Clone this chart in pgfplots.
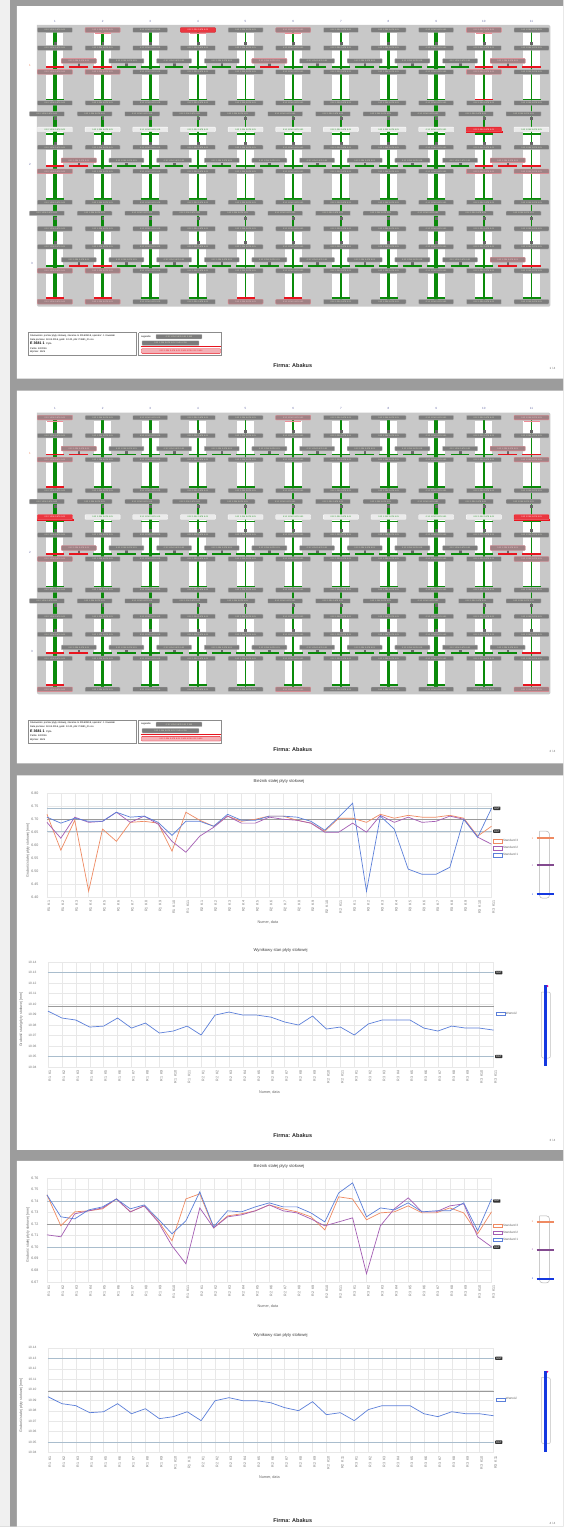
\documentclass[border=0pt]{standalone}
\usepackage{fontspec}
\setmainfont{Liberation Sans}
\usepackage{pgfplots}
\pgfplotsset{compat=1.18}

\definecolor{pagegray}{HTML}{9C9C9C}
\definecolor{panelgray}{HTML}{C8C8C8}
\definecolor{boxgray}{HTML}{7C7C7C}
\definecolor{boxedge}{HTML}{BDBDBD}
\definecolor{boxtext}{HTML}{E6E6D2}
\definecolor{sgreen}{HTML}{0A8A0A}
\definecolor{sred}{HTML}{E8141E}
\definecolor{spink}{HTML}{F08C96}
\definecolor{corange}{HTML}{EF8A62}
\definecolor{cpurple}{HTML}{A45DB3}
\definecolor{cblue}{HTML}{5B7FD9}
\definecolor{refblue}{HTML}{A9BDCD}
\definecolor{refgray}{HTML}{9A9A9A}
\definecolor{barblue}{HTML}{1438E0}
\definecolor{numcol}{HTML}{6A6FA8}

\newcommand\fs[1]{\fontsize{#1}{#1}\selectfont}
\newcommand\boxtxt{0.12\, 1.234\, 5.678\, 9.01}
\newcommand\xl[2]{R#1\hspace{2pt}K#2}

\tikzset{
  sbox/.style={rectangle, rounded corners=0.6pt, fill=boxgray, draw=boxedge, line width=0.35pt, minimum width=35pt, minimum height=4.6pt, inner sep=0pt, text=boxtext, font=\fs{2}},
  sboxpink/.style={sbox, fill=boxgray!70!spink, draw=spink, text=spink!40!white},
  sboxred/.style={sbox, fill=sred!85, draw=sred, text=white},
  sboxlight/.style={sbox, fill=black!8, draw=white, text=sgreen},
  lbl/.style={fill=black!80, text=white, font=\fs{2.6}, inner sep=0.8pt, rounded corners=0.6pt, anchor=west, xshift=1.5pt},
}

\pgfplotsset{
  mycanvas/.style={anchor=north west, x=1pt, y=1pt, y dir=reverse, xmin=0, xmax=564, ymin=0, ymax=1528, hide axis, clip=false},
  mypage/.style={anchor=north west, x=1pt, y=1pt, y dir=reverse, xmin=0, xmax=564, ymin=0, ymax=372, hide axis, clip=false},
  lbox/.style={only marks, mark=none, nodes near coords={\boxtxt}, nodes near coords align={anchor=center}, every node near coord/.append style={#1}},
  lbox/.default={sbox},
  rdash/.style={only marks, mark=-, mark size=9.3pt, sred, mark options={line width=1.8pt}},
  xlabs/.style={xticklabels={\xl11,\xl12,\xl13,\xl14,\xl15,\xl16,\xl17,\xl18,\xl19,\xl1{10},\xl1{11},\xl21,\xl22,\xl23,\xl24,\xl25,\xl26,\xl27,\xl28,\xl29,\xl2{10},\xl2{11},\xl31,\xl32,\xl33,\xl34,\xl35,\xl36,\xl37,\xl38,\xl39,\xl3{10},\xl3{11}}},
  mychart/.style={anchor=north west, scale only axis, width=445pt, xmin=0, xmax=32, enlargelimits=false, clip=false,
    axis line style={draw=none}, tick style={draw=none},
    grid=major, grid style={black!9, line width=0.35pt},
    xtick={0,...,32}, xlabs,
    xticklabel style={rotate=90, anchor=east, font=\fs{3.6}, text=black!55, yshift=-2pt},
    yticklabel style={font=\fs{3.6}, text=black!55, xshift=-5pt, /pgf/number format/fixed, /pgf/number format/fixed zerofill, /pgf/number format/precision=2},
    /pgf/number format/assume math mode=true,
    title style={font=\fs{4.2}, text=black!75, at={(axis description cs:0.522,1)}, anchor=south, yshift=0.5pt},
    xlabel style={font=\fs{3.8}, text=black!60, at={(axis description cs:0.497,-0.24)}, anchor=center},
    ylabel style={font=\fs{3.6}, text=black!60, at={(axis description cs:-0.043,0.45)}, anchor=center},
    legend style={draw=none, fill=none, font=\fs{3.1}, text=black!60, inner sep=0pt, row sep=2.4pt, nodes={inner sep=0.4pt}, anchor=north west, cells={anchor=west}},
    legend image code/.code={\draw[##1, line width=0.6pt, fill=white] (0pt,-1.7pt) rectangle (9pt,1.7pt);},
  },
}

\newcommand\schematicbase{%
\addplot[fill=panelgray, draw=none, rounded corners=2pt] coordinates {(37,25) (551,25) (551,307) (37,307) (37,25)};
\pgfplotsinvokeforeach{55,102.7,150.4,198.1,245.8,293.5,341.2,388.9,436.6,484.3,532}{%
 \addplot[white, line width=17pt, unbounded coords=jump] coordinates {(##1,33) (##1,66) (##1,nan) (##1,75) (##1,99.5) (##1,nan) (##1,132.5) (##1,165.5) (##1,nan) (##1,174.5) (##1,199) (##1,nan) (##1,232) (##1,265) (##1,nan) (##1,274) (##1,298)};}
\pgfplotsinvokeforeach{55,102.7,150.4,388.9,436.6}{%
 \addplot[sgreen, line width=3.4pt] coordinates {(##1,30) (##1,302)};}
\pgfplotsinvokeforeach{198.1,245.8,293.5,341.2,484.3,532}{%
 \addplot[sgreen, line width=1.8pt] coordinates {(##1,30) (##1,302)};}
\pgfplotsinvokeforeach{55,102.7,150.4,198.1,245.8,293.5,341.2,388.9,436.6,484.3,532}{%
 \addplot[only marks, mark=-, mark size=9pt, sgreen, mark options={line width=1.8pt}] coordinates {(##1,99.5) (##1,134) (##1,199) (##1,298)};}
\pgfplotsinvokeforeach{67,166.5,266}{%
 \addplot[only marks, mark=-, mark size=9.3pt, sgreen, mark options={line width=1.8pt}] coordinates {(55,##1) (78.85,##1) (102.7,##1) (126.55,##1) (150.4,##1) (174.25,##1) (198.1,##1) (221.95,##1) (245.8,##1) (269.65,##1) (293.5,##1) (317.35,##1) (341.2,##1) (365.05,##1) (388.9,##1) (412.75,##1) (436.6,##1) (460.45,##1) (484.3,##1) (508.15,##1) (532,##1)};}
\pgfplotsinvokeforeach{55,102.7,150.4,198.1,245.8,293.5,341.2,388.9,436.6,484.3,532}{%
 \addplot[only marks, mark=square*, mark size=0.9pt, black!60] coordinates {(##1,43.5) (##1,118.5) (##1,143) (##1,218) (##1,242.5)};}
\pgfplotsinvokeforeach{78.85,126.55,174.25,221.95,269.65,317.35,365.05,412.75,460.45,508.15}{%
 \addplot[only marks, mark=square*, mark size=0.9pt, black!60] coordinates {(##1,64.3) (##1,163.8) (##1,263.3)};}
\pgfplotsinvokeforeach{55,102.7,150.4,198.1,245.8,293.5,341.2,388.9,436.6,484.3,532}{%
 \addplot[lbox] coordinates {(##1,30) (##1,48) (##1,72) (##1,103) (##1,147.5) (##1,171.5) (##1,202.5) (##1,229) (##1,247) (##1,271) (##1,302)};}
\pgfplotsinvokeforeach{47,94.7,142.4,190.1,237.8,285.5,333.2,380.9,428.6,476.3,524}{%
 \addplot[lbox] coordinates {(##1,114) (##1,213.5)};}
\pgfplotsinvokeforeach{78.85,126.55,174.25,221.95,269.65,317.35,365.05,412.75,460.45,508.15}{%
 \addplot[lbox] coordinates {(##1,61) (##1,160.5) (##1,260)};}
\addplot[lbox=sboxlight] coordinates {(55,129.5) (102.7,129.5) (150.4,129.5) (198.1,129.5) (245.8,129.5) (293.5,129.5) (341.2,129.5) (388.9,129.5) (436.6,129.5) (484.3,129.5) (532,129.5)};
\node[font=\fs{3}, text=numcol] at (axis cs:55,21) {1};
\node[font=\fs{3}, text=numcol] at (axis cs:102.7,21) {2};
\node[font=\fs{3}, text=numcol] at (axis cs:150.4,21) {3};
\node[font=\fs{3}, text=numcol] at (axis cs:198.1,21) {4};
\node[font=\fs{3}, text=numcol] at (axis cs:245.8,21) {5};
\node[font=\fs{3}, text=numcol] at (axis cs:293.5,21) {6};
\node[font=\fs{3}, text=numcol] at (axis cs:341.2,21) {7};
\node[font=\fs{3}, text=numcol] at (axis cs:388.9,21) {8};
\node[font=\fs{3}, text=numcol] at (axis cs:436.6,21) {9};
\node[font=\fs{3}, text=numcol] at (axis cs:484.3,21) {10};
\node[font=\fs{3}, text=numcol] at (axis cs:532,21) {11};
\node[font=\fs{3}, text=corange] at (axis cs:30,66) {1};
\node[font=\fs{3}, text=numcol] at (axis cs:30,165) {2};
\node[font=\fs{3}, text=numcol] at (axis cs:32,264) {3};
% info boxes
\addplot[draw=black!45, line width=0.9pt, fill=white] coordinates {(28,333) (137,333) (137,356) (28,356) (28,333)};
\addplot[draw=black!45, line width=0.9pt, fill=white] coordinates {(139,333) (222,333) (222,356) (139,356) (139,333)};
\node[anchor=west, font=\fs{2.4}, inner sep=0pt] at (axis cs:30,335.8) {Stanowisko: pomiar płyty stołowej, zlecenie nr 2016/0418, operator: J. Kowalski};
\node[anchor=west, font=\fs{2.4}, inner sep=0pt] at (axis cs:30,339.9) {Data pomiaru: 18.04.2016, godz. 10:42, plik: P3681\_01.csv};
\node[anchor=west, font=\bfseries\fs{3.6}, inner sep=0pt] at (axis cs:30,344.3) {E 3681 1 {\mdseries\fs{2.4} Płyta}};
\node[anchor=west, font=\fs{2.4}, inner sep=0pt] at (axis cs:30,348.7) {Partia: 12/2016};
\node[anchor=west, font=\fs{2.4}, inner sep=0pt] at (axis cs:30,352.7) {Wymiar: 1525};
\node[anchor=west, font=\fs{2.4}, inner sep=0pt] at (axis cs:141,337) {Legenda:};
\node[sbox, anchor=west, minimum width=46pt] at (axis cs:156,337) {0.12\, 1.234\, 5.678\, 9.01\, 2.345};
\node[sbox, anchor=west, minimum width=57pt] at (axis cs:142,343.4) {0.12\, 1.234\, 5.678\, 9.01\, 2.345\, 6.789};
\addplot[sred, line width=1pt] coordinates {(141,347.3) (221,347.3)};
\node[sbox, anchor=west, minimum width=79pt, fill=spink!70!white, draw=sred, text=sred] at (axis cs:141.5,351.4) {0.12\, 1.234\, 5.678\, 9.01\, 2.345\, 6.789\, 0.12\, 3.456};
}

\begin{document}
\begin{tikzpicture}
% ===== canvas: pages, footers, side scales =====
\begin{axis}[mycanvas, at={(0pt,0pt)}]
\addplot[fill=pagegray, draw=none] coordinates {(0,0) (564,0) (564,1528) (0,1528) (0,0)};
\addplot[fill=white!94!black, draw=none] coordinates {(0,0) (10,0) (10,1528) (0,1528) (0,0)};
\addplot[fill=white, draw=none] coordinates {(17,6) (564,6) (564,379) (17,379) (17,6)};
\addplot[fill=white, draw=none] coordinates {(17,391) (564,391) (564,764) (17,764) (17,391)};
\addplot[fill=white, draw=none] coordinates {(17,776) (564,776) (564,1151) (17,1151) (17,776)};
\addplot[fill=white, draw=none] coordinates {(17,1162) (564,1162) (564,1528) (17,1528) (17,1162)};
% footers
\node[font=\bfseries\fs{5.5}, text=black!85] at (axis cs:293,366) {Firma: Abakus};
\node[font=\fs{3}, text=black!60] at (axis cs:553,369) {1 / 4};
\node[font=\bfseries\fs{5.5}, text=black!85] at (axis cs:293,750) {Firma: Abakus};
\node[font=\fs{3}, text=black!60] at (axis cs:553,752) {2 / 4};
\node[font=\bfseries\fs{5.5}, text=black!85] at (axis cs:293,1137) {Firma: Abakus};
\node[font=\fs{3}, text=black!60] at (axis cs:553,1141) {3 / 4};
\node[font=\bfseries\fs{5.5}, text=black!85] at (axis cs:293,1522) {Firma: Abakus};
\node[font=\fs{3}, text=black!60] at (axis cs:553,1525) {4 / 4};
% side scale chart 1
\addplot[draw=black!30, line width=0.5pt, rounded corners=3pt] coordinates {(540,832) (550,832) (550,899) (540,899) (540,832)};
\addplot[corange, line width=1.6pt] coordinates {(537,839) (555,839)};
\addplot[cpurple!80!black, line width=1.6pt] coordinates {(537,866) (555,866)};
\addplot[barblue, line width=1.6pt] coordinates {(537,895) (555,895)};
\node[font=\fs{2.5}, text=corange] at (axis cs:533,839) {3};
\node[font=\fs{2.5}, text=cpurple] at (axis cs:533,866) {2};
\node[font=\fs{2.5}, text=barblue] at (axis cs:533,895) {1};
% side bar chart 2
\addplot[draw=black!25, line width=0.5pt, rounded corners=2pt] coordinates {(542,993) (551,993) (551,1059) (542,1059) (542,993)};
\addplot[barblue, line width=2.6pt] coordinates {(546,986) (546,1067)};
\addplot[only marks, mark=*, mark size=0.7pt, magenta] coordinates {(548,987)};
% side scale chart 3
\addplot[draw=black!30, line width=0.5pt, rounded corners=3pt] coordinates {(540,1217) (550,1217) (550,1284) (540,1284) (540,1217)};
\addplot[corange, line width=1.6pt] coordinates {(537,1223) (555,1223)};
\addplot[cpurple!80!black, line width=1.6pt] coordinates {(537,1251) (555,1251)};
\addplot[barblue, line width=1.6pt] coordinates {(537,1280) (555,1280)};
\node[font=\fs{2.5}, text=corange] at (axis cs:533,1223) {3};
\node[font=\fs{2.5}, text=cpurple] at (axis cs:533,1251) {2};
\node[font=\fs{2.5}, text=barblue] at (axis cs:533,1280) {1};
% side bar chart 4
\addplot[draw=black!25, line width=0.5pt, rounded corners=2pt] coordinates {(542,1379) (551,1379) (551,1445) (542,1445) (542,1379)};
\addplot[barblue, line width=2.6pt] coordinates {(546,1372) (546,1453)};
\addplot[only marks, mark=*, mark size=0.7pt, magenta] coordinates {(548,1373)};
\end{axis}

% ===== page 1 schematic =====
\begin{axis}[mypage, at={(0pt,0pt)}]
\schematicbase
\addplot[lbox=sboxpink] coordinates {(102.7,30) (293.5,30) (484.3,30) (55,72) (102.7,72) (484.3,72) (55,171.5) (484.3,171.5) (532,171.5) (55,271) (102.7,271) (55,302) (102.7,302) (245.8,302) (293.5,302)};
\addplot[lbox=sboxpink] coordinates {(78.85,61) (269.65,61) (508.15,61) (78.85,160.5) (508.15,160.5) (508.15,260)};
\addplot[lbox=sboxred] coordinates {(198.1,30) (484.3,129.5)};
\addplot[rdash] coordinates {(55,67) (78.85,67) (102.7,67) (269.65,67) (484.3,67) (508.15,67) (532,67) (55,166.5) (78.85,166.5) (484.3,166.5) (508.15,166.5) (532,166.5) (78.85,266) (102.7,266) (508.15,266) (532,266)};
\addplot[only marks, mark=-, mark size=9pt, sred, mark options={line width=1.8pt}] coordinates {(55,298) (102.7,298) (245.8,298) (293.5,298) (484.3,99.5)};
\addplot[only marks, mark=-, mark size=8pt, spink, mark options={line width=0.8pt}] coordinates {(102.7,33.6) (198.1,33.6) (293.5,33.6) (484.3,33.6)};
\addplot[sred, line width=1.8pt] coordinates {(466,132.5) (503,132.5)};
\end{axis}

% ===== page 2 schematic =====
\begin{axis}[mypage, at={(0pt,-388pt)}]
\schematicbase
\addplot[lbox=sboxpink] coordinates {(55,30) (293.5,30) (532,30) (55,72) (532,72) (55,171.5) (532,171.5) (55,302) (293.5,302) (532,302)};
\addplot[lbox=sboxpink] coordinates {(78.85,61) (508.15,61) (78.85,160.5) (508.15,160.5)};
\addplot[lbox=sboxred] coordinates {(55,129.5) (532,129.5)};
\addplot[rdash] coordinates {(55,67) (78.85,67) (508.15,67) (532,67) (55,166.5) (78.85,166.5) (508.15,166.5) (532,166.5) (55,266) (78.85,266) (532,266)};
\addplot[only marks, mark=-, mark size=9pt, sred, mark options={line width=1.8pt}] coordinates {(55,298) (532,298) (55,99.5)};
\addplot[only marks, mark=-, mark size=8pt, spink, mark options={line width=0.8pt}] coordinates {(55,33.6) (293.5,33.6) (532,33.6)};
\addplot[sred, line width=1.8pt] coordinates {(37,132.5) (74,132.5)};
\addplot[sred, line width=1.8pt] coordinates {(514,132.5) (551,132.5)};
\end{axis}

% ===== chart 1 (page 3 top) =====
\begin{axis}[mychart, at={(47pt,-794pt)}, height=104pt, ymin=6.40, ymax=6.80,
  ytick={6.40,6.45,6.50,6.55,6.60,6.65,6.70,6.75,6.80},
  title={Bieżnik stałej płyty stołowej}, xlabel={Numer, data}, ylabel={Grubość stałej płyty stołowej [mm]},
  legend style={at={(axis description cs:1.003,0.56)}}]
\addplot[refblue, line width=0.8pt, forget plot] coordinates {(0,6.742) (32,6.742)};
\addplot[refgray, line width=0.8pt, forget plot] coordinates {(0,6.700) (32,6.700)};
\addplot[refblue, line width=0.8pt, forget plot] coordinates {(0,6.654) (32,6.654)};
\addplot[corange, line width=0.7pt] coordinates {(0,6.719) (1,6.581) (2,6.696) (3,6.423) (4,6.662) (5,6.615) (6,6.688) (7,6.692) (8,6.685) (9,6.577) (10,6.727) (11,6.696) (12,6.673) (13,6.712) (14,6.692) (15,6.700) (16,6.712) (17,6.712) (18,6.696) (19,6.685) (20,6.654) (21,6.704) (22,6.704) (23,6.688) (24,6.719) (25,6.704) (26,6.715) (27,6.708) (28,6.708) (29,6.715) (30,6.704) (31,6.635) (32,6.673)};
\addlegendentry{Standard 3}
\addplot[cpurple, line width=0.7pt] coordinates {(0,6.688) (1,6.627) (2,6.708) (3,6.688) (4,6.692) (5,6.727) (6,6.688) (7,6.712) (8,6.681) (9,6.615) (10,6.573) (11,6.635) (12,6.669) (13,6.712) (14,6.685) (15,6.685) (16,6.708) (17,6.700) (18,6.696) (19,6.685) (20,6.650) (21,6.650) (22,6.685) (23,6.650) (24,6.715) (25,6.688) (26,6.708) (27,6.688) (28,6.692) (29,6.712) (30,6.700) (31,6.631) (32,6.604)};
\addlegendentry{Standard 2}
\addplot[cblue, line width=0.7pt] coordinates {(0,6.708) (1,6.685) (2,6.704) (3,6.692) (4,6.692) (5,6.727) (6,6.708) (7,6.712) (8,6.688) (9,6.638) (10,6.692) (11,6.692) (12,6.673) (13,6.719) (14,6.696) (15,6.696) (16,6.712) (17,6.712) (18,6.708) (19,6.692) (20,6.658) (21,6.708) (22,6.762) (23,6.423) (24,6.712) (25,6.662) (26,6.508) (27,6.488) (28,6.488) (29,6.515) (30,6.700) (31,6.631) (32,6.742)};
\addlegendentry{Standard 1}
\node[lbl] at (axis cs:32,6.742) {GGT};
\node[lbl] at (axis cs:32,6.654) {DGT};
\end{axis}

% ===== chart 2 (page 3 bottom) =====
\begin{axis}[mychart, at={(48pt,-963pt)}, width=446pt, height=105pt, ymin=10.04, ymax=10.14,
  ytick={10.04,10.05,10.06,10.07,10.08,10.09,10.10,10.11,10.12,10.13,10.14},
  yticklabel style={font=\fs{3.2}, xshift=-3pt},
  ylabel style={at={(axis description cs:-0.06,0.45)}},
  title={Wynikowy stan płyty stołowej}, xlabel={Numer, data}, ylabel={Grubość stałej płyty stołowej [mm]},
  legend style={at={(axis description cs:1.005,0.53)}}]
\addplot[refblue, line width=0.8pt, forget plot] coordinates {(0,10.13) (32,10.13)};
\addplot[refgray, line width=0.8pt, forget plot] coordinates {(0,10.098) (32,10.098)};
\addplot[refblue, line width=0.8pt, forget plot] coordinates {(0,10.05) (32,10.05)};
\addplot[cblue, line width=0.7pt] coordinates {(0,10.0933) (1,10.0867) (2,10.0848) (3,10.0781) (4,10.0790) (5,10.0867) (6,10.0771) (7,10.0819) (8,10.0724) (9,10.0743) (10,10.0790) (11,10.0705) (12,10.0895) (13,10.0924) (14,10.0895) (15,10.0895) (16,10.0876) (17,10.0829) (18,10.0800) (19,10.0886) (20,10.0762) (21,10.0781) (22,10.0705) (23,10.0810) (24,10.0848) (25,10.0848) (26,10.0848) (27,10.0771) (28,10.0743) (29,10.0790) (30,10.0771) (31,10.0771) (32,10.0752)};
\addlegendentry{Wartość}
\node[lbl] at (axis cs:32,10.13) {GGT};
\node[lbl] at (axis cs:32,10.05) {DGT};
\end{axis}

% ===== chart 3 (page 4 top) =====
\begin{axis}[mychart, at={(47pt,-1179pt)}, height=104pt, ymin=6.67, ymax=6.76,
  ytick={6.67,6.68,6.69,6.70,6.71,6.72,6.73,6.74,6.75,6.76},
  title={Bieżnik stałej płyty stołowej}, xlabel={Numer, data}, ylabel={Grubość stałej płyty stołowej [mm]},
  legend style={at={(axis description cs:1.003,0.56)}}]
\addplot[refblue, line width=0.8pt, forget plot] coordinates {(0,6.740) (32,6.740)};
\addplot[refgray, line width=0.8pt, forget plot] coordinates {(0,6.720) (32,6.720)};
\addplot[refblue, line width=0.8pt, forget plot] coordinates {(0,6.700) (32,6.700)};
\addplot[corange, line width=0.7pt] coordinates {(0,6.7453) (1,6.7185) (2,6.7306) (3,6.7315) (4,6.7332) (5,6.7418) (6,6.7306) (7,6.7358) (8,6.7228) (9,6.7055) (10,6.7418) (11,6.7462) (12,6.7167) (13,6.7271) (14,6.7289) (15,6.7315) (16,6.7366) (17,6.7332) (18,6.7306) (19,6.7263) (20,6.7150) (21,6.7436) (22,6.7418) (23,6.7237) (24,6.7297) (25,6.7306) (26,6.7358) (27,6.7297) (28,6.7297) (29,6.7340) (30,6.7297) (31,6.7116) (32,6.7306)};
\addlegendentry{Standard 3}
\addplot[cpurple, line width=0.7pt] coordinates {(0,6.7107) (1,6.7090) (2,6.7289) (3,6.7315) (4,6.7340) (5,6.7418) (6,6.7306) (7,6.7358) (8,6.7219) (9,6.7012) (10,6.6856) (11,6.7340) (12,6.7167) (13,6.7263) (14,6.7280) (15,6.7315) (16,6.7366) (17,6.7315) (18,6.7297) (19,6.7245) (20,6.7185) (21,6.7219) (22,6.7254) (23,6.6770) (24,6.7185) (25,6.7332) (26,6.7427) (27,6.7306) (28,6.7306) (29,6.7358) (30,6.7375) (31,6.7090) (32,6.7003)};
\addlegendentry{Standard 2}
\addplot[cblue, line width=0.7pt] coordinates {(0,6.7453) (1,6.7263) (2,6.7245) (3,6.7323) (4,6.7349) (5,6.7418) (6,6.7332) (7,6.7366) (8,6.7245) (9,6.7116) (10,6.7228) (11,6.7479) (12,6.7176) (13,6.7315) (14,6.7306) (15,6.7349) (16,6.7384) (17,6.7349) (18,6.7349) (19,6.7297) (20,6.7219) (21,6.7470) (22,6.7557) (23,6.7263) (24,6.7340) (25,6.7323) (26,6.7384) (27,6.7306) (28,6.7315) (29,6.7315) (30,6.7384) (31,6.7142) (32,6.7418)};
\addlegendentry{Standard 1}
\node[lbl] at (axis cs:32,6.740) {GGT};
\node[lbl] at (axis cs:32,6.700) {DGT};
\end{axis}

% ===== chart 4 (page 4 bottom) =====
\begin{axis}[mychart, at={(48pt,-1349pt)}, width=446pt, height=105pt, ymin=10.04, ymax=10.14,
  ytick={10.04,10.05,10.06,10.07,10.08,10.09,10.10,10.11,10.12,10.13,10.14},
  yticklabel style={font=\fs{3.2}, xshift=-3pt},
  ylabel style={at={(axis description cs:-0.06,0.45)}},
  title={Wynikowy stan płyty stołowej}, xlabel={Numer, data}, ylabel={Grubość stałej płyty stołowej [mm]},
  legend style={at={(axis description cs:1.005,0.53)}}]
\addplot[refblue, line width=0.8pt, forget plot] coordinates {(0,10.13) (32,10.13)};
\addplot[refgray, line width=0.8pt, forget plot] coordinates {(0,10.098) (32,10.098)};
\addplot[refblue, line width=0.8pt, forget plot] coordinates {(0,10.05) (32,10.05)};
\addplot[cblue, line width=0.7pt] coordinates {(0,10.0933) (1,10.0867) (2,10.0848) (3,10.0781) (4,10.0790) (5,10.0867) (6,10.0771) (7,10.0819) (8,10.0724) (9,10.0743) (10,10.0790) (11,10.0705) (12,10.0895) (13,10.0924) (14,10.0895) (15,10.0895) (16,10.0876) (17,10.0829) (18,10.0800) (19,10.0886) (20,10.0762) (21,10.0781) (22,10.0705) (23,10.0810) (24,10.0848) (25,10.0848) (26,10.0848) (27,10.0771) (28,10.0743) (29,10.0790) (30,10.0771) (31,10.0771) (32,10.0752)};
\addlegendentry{Wartość}
\node[lbl] at (axis cs:32,10.13) {GGT};
\node[lbl] at (axis cs:32,10.05) {DGT};
\end{axis}
\end{tikzpicture}
\end{document}
